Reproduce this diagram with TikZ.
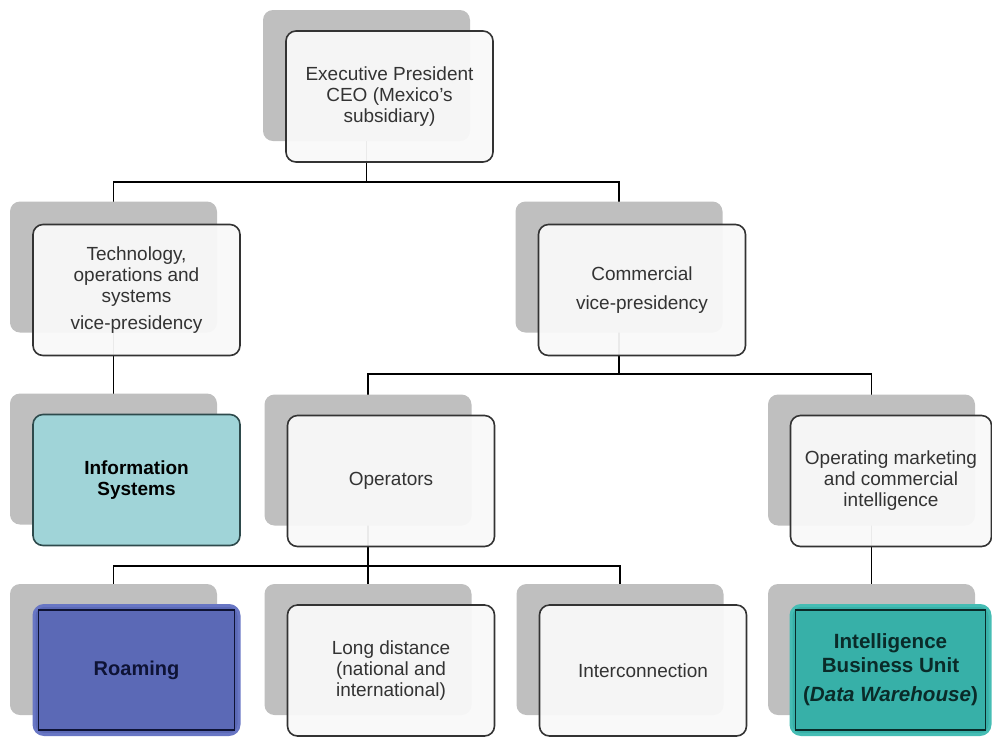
\documentclass[tikz,border=0pt]{standalone}
\usepackage{fontspec}
\setmainfont{Liberation Sans}
\usetikzlibrary{backgrounds}
\definecolor{shadowgray}{HTML}{BFBFBF}
\definecolor{boxfill}{HTML}{F9F9F9}
\definecolor{boxline}{HTML}{333333}
\definecolor{txt}{HTML}{333333}
\definecolor{infofill}{HTML}{A0D4D8}
\definecolor{infoline}{HTML}{2E4A4C}
\definecolor{roamfill}{HTML}{5B69B6}
\definecolor{roamedge}{HTML}{6876C4}
\definecolor{roamtxt}{HTML}{0E1335}
\definecolor{ibufill}{HTML}{37B0A8}
\definecolor{ibuedge}{HTML}{45BDB4}
\definecolor{ibutxt}{HTML}{0A2B29}
\tikzset{
  shadowbox/.style={fill=shadowgray, rounded corners=5pt, minimum width=103.5pt, minimum height=65.5pt, inner sep=0pt},
  mainbox/.style={draw=boxline, line width=0.8pt, fill=boxfill, fill opacity=0.94, text opacity=1, rounded corners=5pt,
     minimum width=103.5pt, minimum height=65.5pt, inner sep=2pt, align=center, text=txt,
     font=\fontsize{9.5}{10.5}\selectfont},
  infobox/.style={mainbox, fill=infofill, fill opacity=1, draw=infoline, text=black, font=\fontsize{9.5}{10.5}\selectfont\bfseries},
  roambox/.style={mainbox, fill=roamfill, fill opacity=1, draw=roamedge, line width=1.5pt, text=roamtxt, font=\fontsize{10}{11}\selectfont\bfseries},
  ibubox/.style={mainbox, fill=ibufill, fill opacity=1, draw=ibuedge, line width=1.5pt, text=ibutxt, font=\fontsize{10.3}{11.8}\selectfont\bfseries},
  innerframe/.style={draw=#1, line width=0.6pt},
  conn/.style={draw=black, line width=0.75pt},
}
\begin{document}
\begin{tikzpicture}[x=0.5pt, y=-0.5pt]
\useasboundingbox (0,0) rectangle (992,736);
% shadows
\node[shadowbox] (ceoS)  at (366.5,75.5) {};
\node[shadowbox] (techS) at (113.5,267) {};
\node[shadowbox] (commS) at (619,267) {};
\node[shadowbox] (infoS) at (113.5,459) {};
\node[shadowbox] (operS) at (368,460) {};
\node[shadowbox] (mktS)  at (871.5,460) {};
\node[shadowbox] (roamS) at (113.5,649.5) {};
\node[shadowbox] (ldS)   at (368,649.5) {};
\node[shadowbox] (icS)   at (620,649.5) {};
\node[shadowbox] (ibuS)  at (871.5,649.5) {};
% main boxes
\node[mainbox] (ceo) at (389.5,96.5) {Executive President\\CEO (Mexico's\\subsidiary)};
\node[mainbox] (tech) at (136.5,290) {Technology,\\operations and\\systems\\[3pt]vice-presidency};
\node[mainbox] (comm) at (642,290) {Commercial\\[4pt]vice-presidency};
\node[infobox] (info) at (136.5,480) {Information\\Systems};
\node[mainbox] (oper) at (391,481) {Operators};
\node[mainbox, minimum width=100.5pt] (mkt) at (891,481) {Operating marketing\\and commercial\\intelligence};
\node[roambox, minimum width=102.5pt, minimum height=64.5pt] (roam) at (136.5,670) {Roaming};
\node[mainbox] (ld) at (391,670.5) {Long distance\\(national and\\international)};
\node[mainbox] (ic) at (643,670.5) {Interconnection};
\node[ibubox, minimum width=99.5pt, minimum height=64.5pt] (ibu) at (890.5,670) {Intelligence\\Business Unit\\[3pt](\textit{Data Warehouse})};
% inner frames of the coloured boxes
\draw[innerframe=roamtxt] ([xshift=3pt,yshift=-3pt]roam.north west) rectangle ([xshift=-3pt,yshift=3pt]roam.south east);
\draw[innerframe=ibutxt] ([xshift=3pt,yshift=-3pt]ibu.north west) rectangle ([xshift=-3pt,yshift=3pt]ibu.south east);
% connectors
\coordinate (bus1) at (0,182);
\coordinate (bus2) at (0,374);
\coordinate (bus3) at (0,566);
\begin{scope}[on background layer]
\draw[conn] (ceoS.center) |- (techS.center |- bus1) -- (techS.center);
\draw[conn] (ceoS.center) |- (commS.center |- bus1) -- (commS.center);
\draw[conn] (techS.center) -- (infoS.center);
\draw[conn] (commS.center) |- (operS.center |- bus2) -- (operS.center);
\draw[conn] (commS.center) |- (mktS.center |- bus2) -- (mktS.center);
\draw[conn] (operS.center) |- (roamS.center |- bus3) -- (roamS.center);
\draw[conn] (operS.center) |- (ldS.center |- bus3) -- (ldS.center);
\draw[conn] (operS.center) |- (icS.center |- bus3) -- (icS.center);
\draw[conn] (mktS.center) -- (ibuS.center);
\end{scope}
\end{tikzpicture}
\end{document}
